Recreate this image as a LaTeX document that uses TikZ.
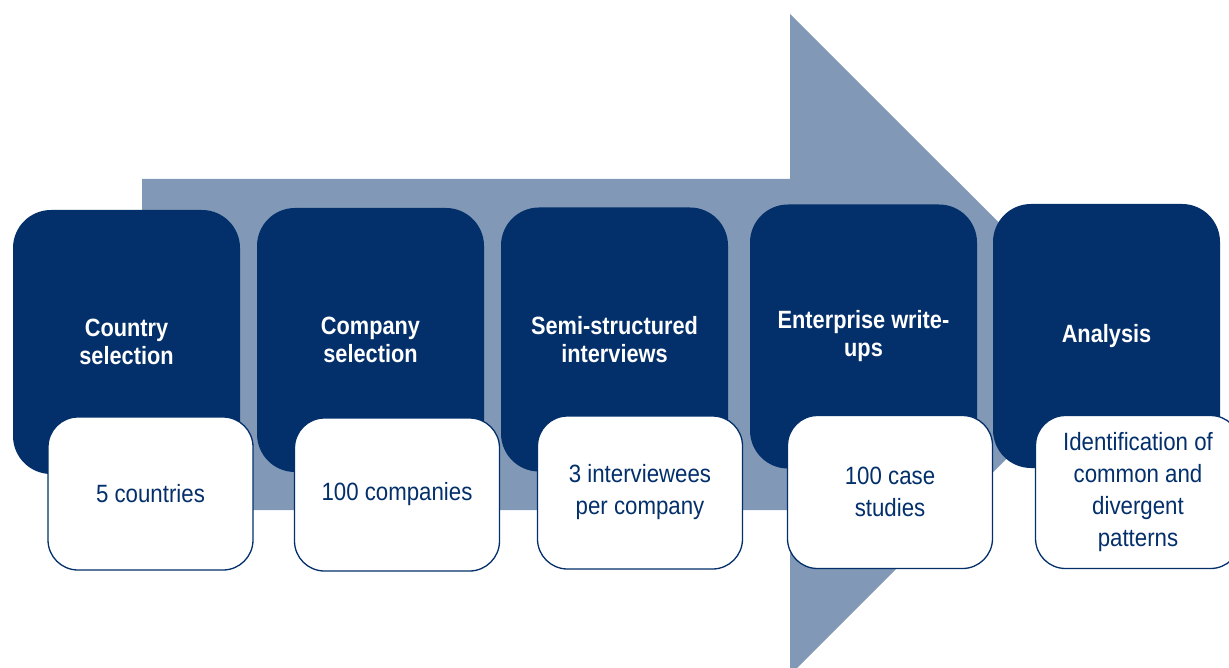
\documentclass[tikz,border=0pt]{standalone}
\usepackage{fontspec}
\newfontfamily\headfont[FakeStretch=0.87]{Liberation Sans}
\newfontfamily\bodyfont[FakeStretch=0.89]{Liberation Sans}
\definecolor{navy}{HTML}{032F6A}
\definecolor{steel}{HTML}{8199B7}
\begin{document}
\begin{tikzpicture}[x=1pt,y=-1pt,
  stage/.style={fill=navy, draw=none, rounded corners=38pt,
    minimum width=227pt, minimum height=264pt, inner sep=0pt,
    align=center, text=white,
    font=\headfont\bfseries\fontsize{25}{28}\selectfont},
  detail/.style={fill=white, draw=navy, line width=1.3pt, rounded corners=30pt,
    minimum width=205pt, minimum height=153pt, inner sep=0pt,
    align=center, text=navy,
    font=\bodyfont\fontsize{25}{32}\selectfont}]
\useasboundingbox (0,0) rectangle (1229,668);
\clip (0,0) rectangle (1229,668);

% background process arrow
\fill[steel] (142,179) -- (790,179) -- (790,14) -- (1121,344.5)
  -- (790,675) -- (790,510) -- (142,510) -- cycle;

% stage headers
\node[stage] (s1) at (126.5,342) {Country\\selection};
\node[stage] (s2) at (370.5,340) {Company\\selection};
\node[stage] (s3) at (614.5,339.5) {Semi-structured\\interviews};
\node[stage] (s4) at (863.5,336.5) {Enterprise write-\\ups};
\node[stage] (s5) at (1106.5,336) {Analysis};

% stage details
\node[detail] (d1) at (150.5,493.5) {5 countries};
\node[detail] (d2) at (397,494.5) {100 companies};
\node[detail] (d3) at (640,492.5) {3 interviewees\\per company};
\node[detail] (d4) at (890,492) {100 case\\studies};
\node[detail] (d5) at (1138,492) {Identification of\\common and\\divergent\\patterns};
\end{tikzpicture}
\end{document}
